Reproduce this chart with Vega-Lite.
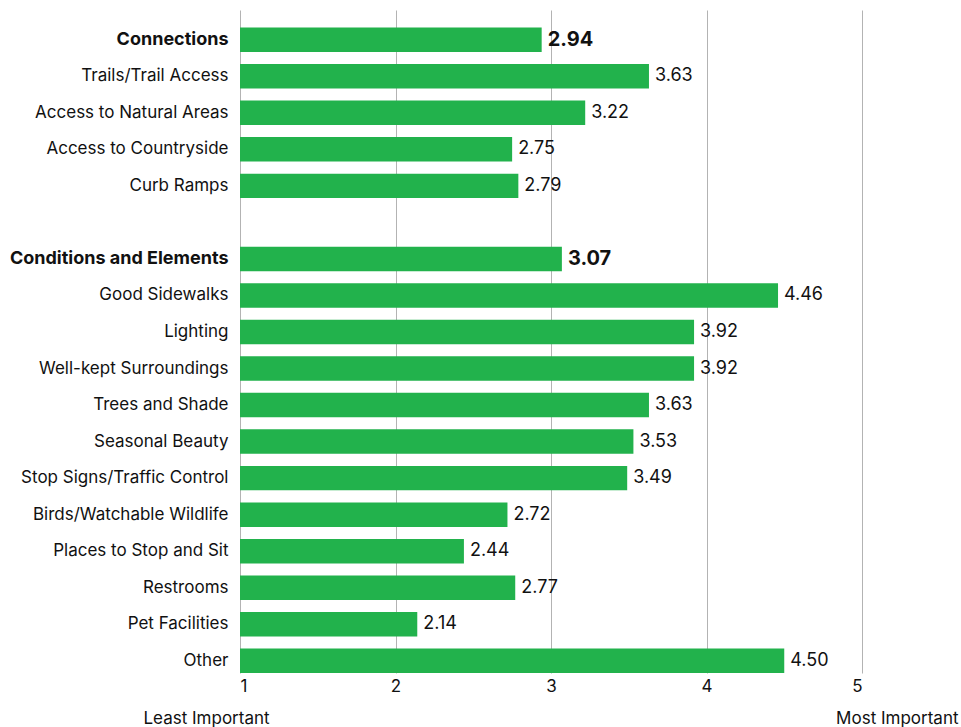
{
  "$schema": "https://vega.github.io/schema/vega-lite/v6.json",
  "autosize": "none",
  "width": 622,
  "height": 663,
  "padding": {"left": 240, "top": 10, "right": 99, "bottom": 54},
  "background": "white",
  "config": {
    "font": "Inter",
    "view": {"stroke": null}
  },
  "data": {
    "values": [
      {"item": "Connections", "score": 2.94, "level": "group"},
      {"item": "Trails/Trail Access", "score": 3.63, "level": "item"},
      {"item": "Access to Natural Areas", "score": 3.22, "level": "item"},
      {"item": "Access to Countryside", "score": 2.75, "level": "item"},
      {"item": "Curb Ramps", "score": 2.79, "level": "item"},
      {"item": "Conditions and Elements", "score": 3.07, "level": "group"},
      {"item": "Good Sidewalks", "score": 4.46, "level": "item"},
      {"item": "Lighting", "score": 3.92, "level": "item"},
      {"item": "Well-kept Surroundings", "score": 3.92, "level": "item"},
      {"item": "Trees and Shade", "score": 3.63, "level": "item"},
      {"item": "Seasonal Beauty", "score": 3.53, "level": "item"},
      {"item": "Stop Signs/Traffic Control", "score": 3.49, "level": "item"},
      {"item": "Birds/Watchable Wildlife", "score": 2.72, "level": "item"},
      {"item": "Places to Stop and Sit", "score": 2.44, "level": "item"},
      {"item": "Restrooms", "score": 2.77, "level": "item"},
      {"item": "Pet Facilities", "score": 2.14, "level": "item"},
      {"item": "Other", "score": 4.50, "level": "item"}
    ]
  },
  "encoding": {
    "y": {
      "field": "item",
      "type": "nominal",
      "scale": {
        "domain": ["Connections", "Trails/Trail Access", "Access to Natural Areas", "Access to Countryside", "Curb Ramps", " ", "Conditions and Elements", "Good Sidewalks", "Lighting", "Well-kept Surroundings", "Trees and Shade", "Seasonal Beauty", "Stop Signs/Traffic Control", "Birds/Watchable Wildlife", "Places to Stop and Sit", "Restrooms", "Pet Facilities", "Other"],
        "paddingInner": 0.33,
        "paddingOuter": 0.24,
        "align": 1
      },
      "axis": {
        "title": null,
        "domain": false,
        "ticks": false,
        "labelPadding": 12,
        "labelFontSize": {"condition": {"test": "datum.value === 'Connections' || datum.value === 'Conditions and Elements'", "value": 18}, "value": 17},
        "labelFontWeight": {"condition": {"test": "datum.value === 'Connections' || datum.value === 'Conditions and Elements'", "value": "bold"}, "value": "normal"},
        "labelColor": "#111111",
        "labelLimit": 300
      }
    }
  },
  "layer": [
    {
      "mark": {"type": "bar", "color": "#22B24C"},
      "encoding": {
        "x": {
          "field": "score",
          "type": "quantitative",
          "scale": {"domain": [1, 5], "nice": false, "zero": false},
          "axis": {
            "values": [1, 2, 3, 4, 5],
            "format": "d",
            "grid": true,
            "gridColor": "#b3b3b3",
            "gridWidth": 1,
            "domain": false,
            "ticks": false,
            "labelPadding": 5,
            "labelFontSize": 17,
            "labelColor": "#111111",
            "title": "Least Important",
            "titleFontSize": 17,
            "titleFontWeight": "normal",
            "titleColor": "#111111",
            "titleAnchor": "start",
            "titleAlign": "left",
            "titleBaseline": "alphabetic",
            "titleX": -97,
            "titleY": 50
          }
        },
        "x2": {"datum": 1}
      }
    },
    {
      "mark": {
        "type": "text",
        "align": "left",
        "baseline": "middle",
        "dx": 6,
        "color": "#111111",
        "fontSize": {"expr": "datum.level === 'group' ? 20 : 18"},
        "fontWeight": {"expr": "datum.level === 'group' ? 'bold' : 'normal'"}
      },
      "encoding": {
        "x": {
          "field": "score",
          "type": "quantitative",
          "scale": {"domain": [1, 5], "nice": false, "zero": false},
          "axis": {
            "orient": "bottom",
            "labels": false,
            "grid": false,
            "domain": false,
            "ticks": false,
            "title": "Most Important",
            "titleFontSize": 17,
            "titleFontWeight": "normal",
            "titleColor": "#111111",
            "titleAnchor": "start",
            "titleAlign": "right",
            "titleBaseline": "alphabetic",
            "titleX": 718,
            "titleY": 50
          }
        },
        "text": {"field": "score", "type": "quantitative", "format": ".2f"}
      }
    }
  ],
  "resolve": {"axis": {"x": "independent"}}
}
